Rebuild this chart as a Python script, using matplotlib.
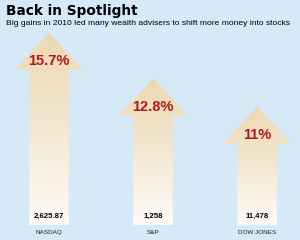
import numpy as np
import matplotlib
matplotlib.use('Agg')
import matplotlib.pyplot as plt
from matplotlib.patches import Polygon
from matplotlib.colors import LinearSegmentedColormap

plt.rcParams['font.family'] = ['Liberation Sans', 'DejaVu Sans']

indexes = ['NASDAQ', 'S&P', 'DOW JONES']
gains = [15.7, 12.8, 11.0]
gain_labels = ['15.7%', '12.8%', '11%']
closes = ['2,625.87', '1,258', '11,478']

bg = '#d5eaf6'
red = '#b3161c'
grad = LinearSegmentedColormap.from_list('arrow', ['#fdfbf7', '#f4e8d2', '#ecd9b2'])

fig = plt.figure(figsize=(3.0, 2.4), dpi=100, facecolor=bg)
ax = fig.add_axes([0, 0, 1, 1])
ax.set_facecolor(bg)
ax.set_xlim(-0.471, 2.413)
ax.set_ylim(2.50, 17.80)
ax.axis('off')

base = 3.46
head_w = 0.33
shaft_w = 0.19
head_h = 2.36

for i, (g, lab, cl, name) in enumerate(zip(gains, gain_labels, closes, indexes)):
    hb = g - head_h
    pts = [(i - shaft_w, base), (i - shaft_w, hb), (i - head_w, hb), (i, g),
           (i + head_w, hb), (i + shaft_w, hb), (i + shaft_w, base)]
    poly = Polygon(pts, closed=True, facecolor='none', edgecolor='none')
    ax.add_patch(poly)
    img = ax.imshow(np.linspace(0, 1, 100).reshape(-1, 1), cmap=grad, aspect='auto',
                    extent=[i - head_w, i + head_w, base, g], origin='lower',
                    interpolation='bilinear')
    img.set_clip_path(poly)
    ax.text(i, hb + 0.55, lab, ha='center', va='center', color=red,
            fontsize=10.5, fontweight='bold')
    ax.text(i, base + 0.55, cl, ha='center', va='center', color='black',
            fontsize=5.6, fontweight='bold')
    ax.text(i, base - 0.5, name, ha='center', va='center', color='#222222',
            fontsize=4.6)

fig.text(0.02, 0.955, 'Back in Spotlight', ha='left', va='center',
         fontsize=9.8, fontweight='bold', color='black', family='DejaVu Sans')
fig.text(0.02, 0.902, 'Big gains in 2010 led many wealth advisers to shift more money into stocks',
         ha='left', va='center', fontsize=6.1, color='black')

plt.savefig('out.png', dpi=100, facecolor=bg)
